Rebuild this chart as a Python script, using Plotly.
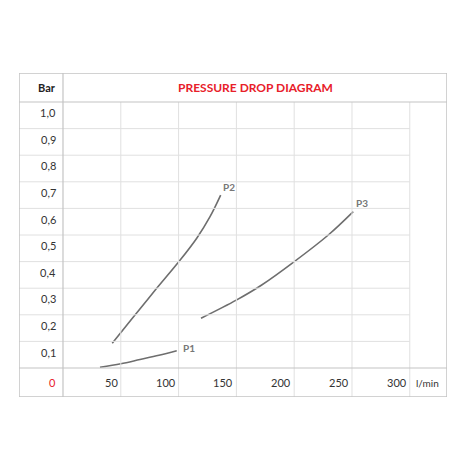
import plotly.graph_objects as go

# flow in l/min, pressure drop in bar
p1_flow = [32, 50, 66.6, 83, 98.4]
p1_bar = [0.003, 0.016, 0.032, 0.048, 0.065]

p2_flow = [42.6, 60, 80, 100.3, 115.7, 127.2, 136.4]
p2_bar = [0.093, 0.187, 0.294, 0.400, 0.488, 0.569, 0.650]

p3_flow = [119.4, 150.3, 171.9, 200.1, 229.5, 251.1]
p3_bar = [0.187, 0.256, 0.312, 0.400, 0.500, 0.588]

curve_labels = ["P1", "P2", "P3"]
label_pos = [(109.3, 0.076), (143.9, 0.682), (258.9, 0.619)]

bar_ticks = [0.1, 0.2, 0.3, 0.4, 0.5, 0.6, 0.7, 0.8, 0.9, 1.0]
bar_tick_text = ["0,1", "0,2", "0,3", "0,4", "0,5", "0,6", "0,7", "0,8", "0,9", "1,0"]
flow_ticks = [50, 100, 150, 200, 250, 300]

X0, X1 = -38.06, 332.2
Y0, Y1 = -0.109, 1.109
BORDER = "#c4c4c4"
GRID = "#e0e0e0"
FONT = "Lato"

fig = go.Figure()
for fx, fy in [(p1_flow, p1_bar), (p2_flow, p2_bar), (p3_flow, p3_bar)]:
    fig.add_trace(go.Scatter(x=fx, y=fy, mode="lines",
                             line=dict(color="#6e6e6e", width=1.6, shape="spline"),
                             hoverinfo="skip", showlegend=False))

shapes = []
# inner grid
for v in bar_ticks[:-1]:
    shapes.append(dict(type="line", x0=X0, x1=300, y0=v, y1=v,
                       line=dict(color=GRID, width=1)))
for f in flow_ticks:
    shapes.append(dict(type="line", x0=f, x1=f, y0=Y0, y1=1.0,
                       line=dict(color=GRID, width=1)))
# heavier lines
for v in [0, 1.0]:
    shapes.append(dict(type="line", x0=X0, x1=X1, y0=v, y1=v,
                       line=dict(color=BORDER, width=1.2)))
shapes.append(dict(type="line", x0=0, x1=0, y0=Y0, y1=Y1,
                   line=dict(color=BORDER, width=1.2)))
shapes.append(dict(type="rect", x0=X0, x1=X1, y0=Y0, y1=Y1,
                   line=dict(color=BORDER, width=1.5)))

ann = []
for v, t in zip(bar_ticks, bar_tick_text):
    ann.append(dict(x=-4.3, y=v - 0.04, text=t, xanchor="right", yanchor="middle",
                    showarrow=False, font=dict(family=FONT, size=11, color="#333333")))
for f in flow_ticks:
    ann.append(dict(x=f - 0.8, y=-0.056, text=str(f), xanchor="right", yanchor="middle",
                    showarrow=False, font=dict(family=FONT, size=11, color="#333333")))
ann.append(dict(x=-4.3, y=-0.056, text="0", xanchor="right", yanchor="middle",
                showarrow=False, font=dict(family=FONT, size=11, color="#e8202a")))
ann.append(dict(x=304, y=-0.056, text="l/min", xanchor="left", yanchor="middle",
                showarrow=False, font=dict(family=FONT, size=10, color="#333333")))
ann.append(dict(x=-4.3, y=1.056, text="<b>Bar</b>", xanchor="right", yanchor="middle",
                showarrow=False, font=dict(family=FONT, size=11, color="#222222")))
ann.append(dict(x=(0 + X1) / 2, y=1.056, text="<b>PRESSURE DROP DIAGRAM</b>",
                xanchor="center", yanchor="middle", showarrow=False,
                font=dict(family=FONT, size=12, color="#e8202a")))
for t, (lx, ly) in zip(curve_labels, label_pos):
    ann.append(dict(x=lx, y=ly, text="<b>" + t + "</b>", xanchor="center", yanchor="middle",
                    showarrow=False, font=dict(family=FONT, size=10, color="#777777")))

# page body adds ~8px, so margins are shifted to compensate
fig.update_layout(
    width=465, height=465,
    margin=dict(l=11, r=26, t=65, b=76),
    paper_bgcolor="white", plot_bgcolor="white",
    xaxis=dict(range=[X0, X1], visible=False, fixedrange=True),
    yaxis=dict(range=[Y0, Y1], visible=False, fixedrange=True),
    shapes=shapes, annotations=ann,
)
fig.write_html("out.html")
